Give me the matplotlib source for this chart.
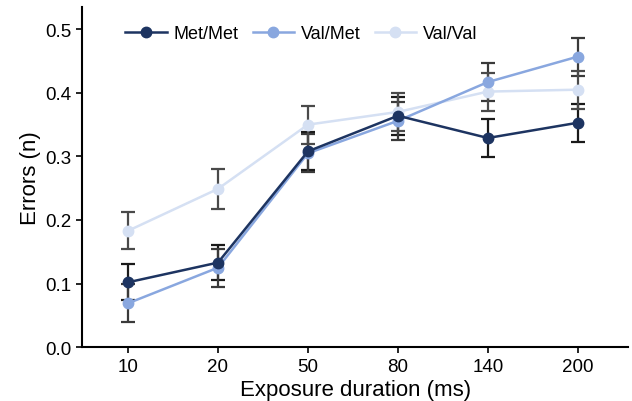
import matplotlib
matplotlib.use("Agg")
import matplotlib.pyplot as plt
import numpy as np

plt.rcParams['font.family'] = ['Liberation Sans', 'DejaVu Sans']

durations = ["10", "20", "50", "80", "140", "200"]
met_met = [0.102, 0.133, 0.308, 0.364, 0.329, 0.353]
met_met_err = [0.028, 0.028, 0.030, 0.030, 0.030, 0.030]
val_met = [0.069, 0.125, 0.305, 0.356, 0.417, 0.457]
val_met_err = [0.030, 0.030, 0.030, 0.030, 0.030, 0.030]
val_val = [0.183, 0.249, 0.350, 0.370, 0.402, 0.405]
val_val_err = [0.029, 0.031, 0.030, 0.030, 0.030, 0.030]

series = [
    ("Met/Met", met_met, met_met_err, "#1d3461", "#1a1a1a"),
    ("Val/Met", val_met, val_met_err, "#89a7df", "#3a3a3a"),
    ("Val/Val", val_val, val_val_err, "#d5e0f3", "#4a4a4a"),
]

fig = plt.figure(figsize=(6.32, 4.02), dpi=100)
ax = fig.add_axes([0.130, 0.134, 0.864, 0.846])
x = np.arange(len(durations))

for i, (name, vals, errs, col, ecol) in enumerate(series):
    ax.errorbar(x, vals, yerr=errs, fmt='none', ecolor=ecol, elinewidth=1.6,
                capsize=5, capthick=1.6, zorder=2 + i)
for i, (name, vals, errs, col, ecol) in enumerate(series):
    ax.plot(x, vals, '-o', color=col, lw=1.8, ms=7.5, label=name, zorder=6 - i)

ax.set_xlim(-0.51, 5.56)
ax.set_ylim(0, 0.535)
ax.set_xticks(x)
ax.set_xticklabels(durations)
ax.set_yticks([0, 0.1, 0.2, 0.3, 0.4, 0.5])
ax.set_yticklabels(["0.0", "0.1", "0.2", "0.3", "0.4", "0.5"])
for s in ['top', 'right']:
    ax.spines[s].set_visible(False)
for s in ['left', 'bottom']:
    ax.spines[s].set_linewidth(1.5)
ax.tick_params(axis='both', labelsize=13.5, length=4, width=1.2, direction='out', pad=4)
ax.set_xlabel("Exposure duration (ms)", fontsize=16, labelpad=3)
ax.set_ylabel("Errors (n)", fontsize=16, labelpad=3)

ax.legend(loc='upper left', bbox_to_anchor=(0.056, 0.984), ncol=3, frameon=False,
          fontsize=13, handlelength=2.3, handletextpad=0.35, columnspacing=0.8,
          borderaxespad=0.3)

fig.savefig("out.png", dpi=100)
